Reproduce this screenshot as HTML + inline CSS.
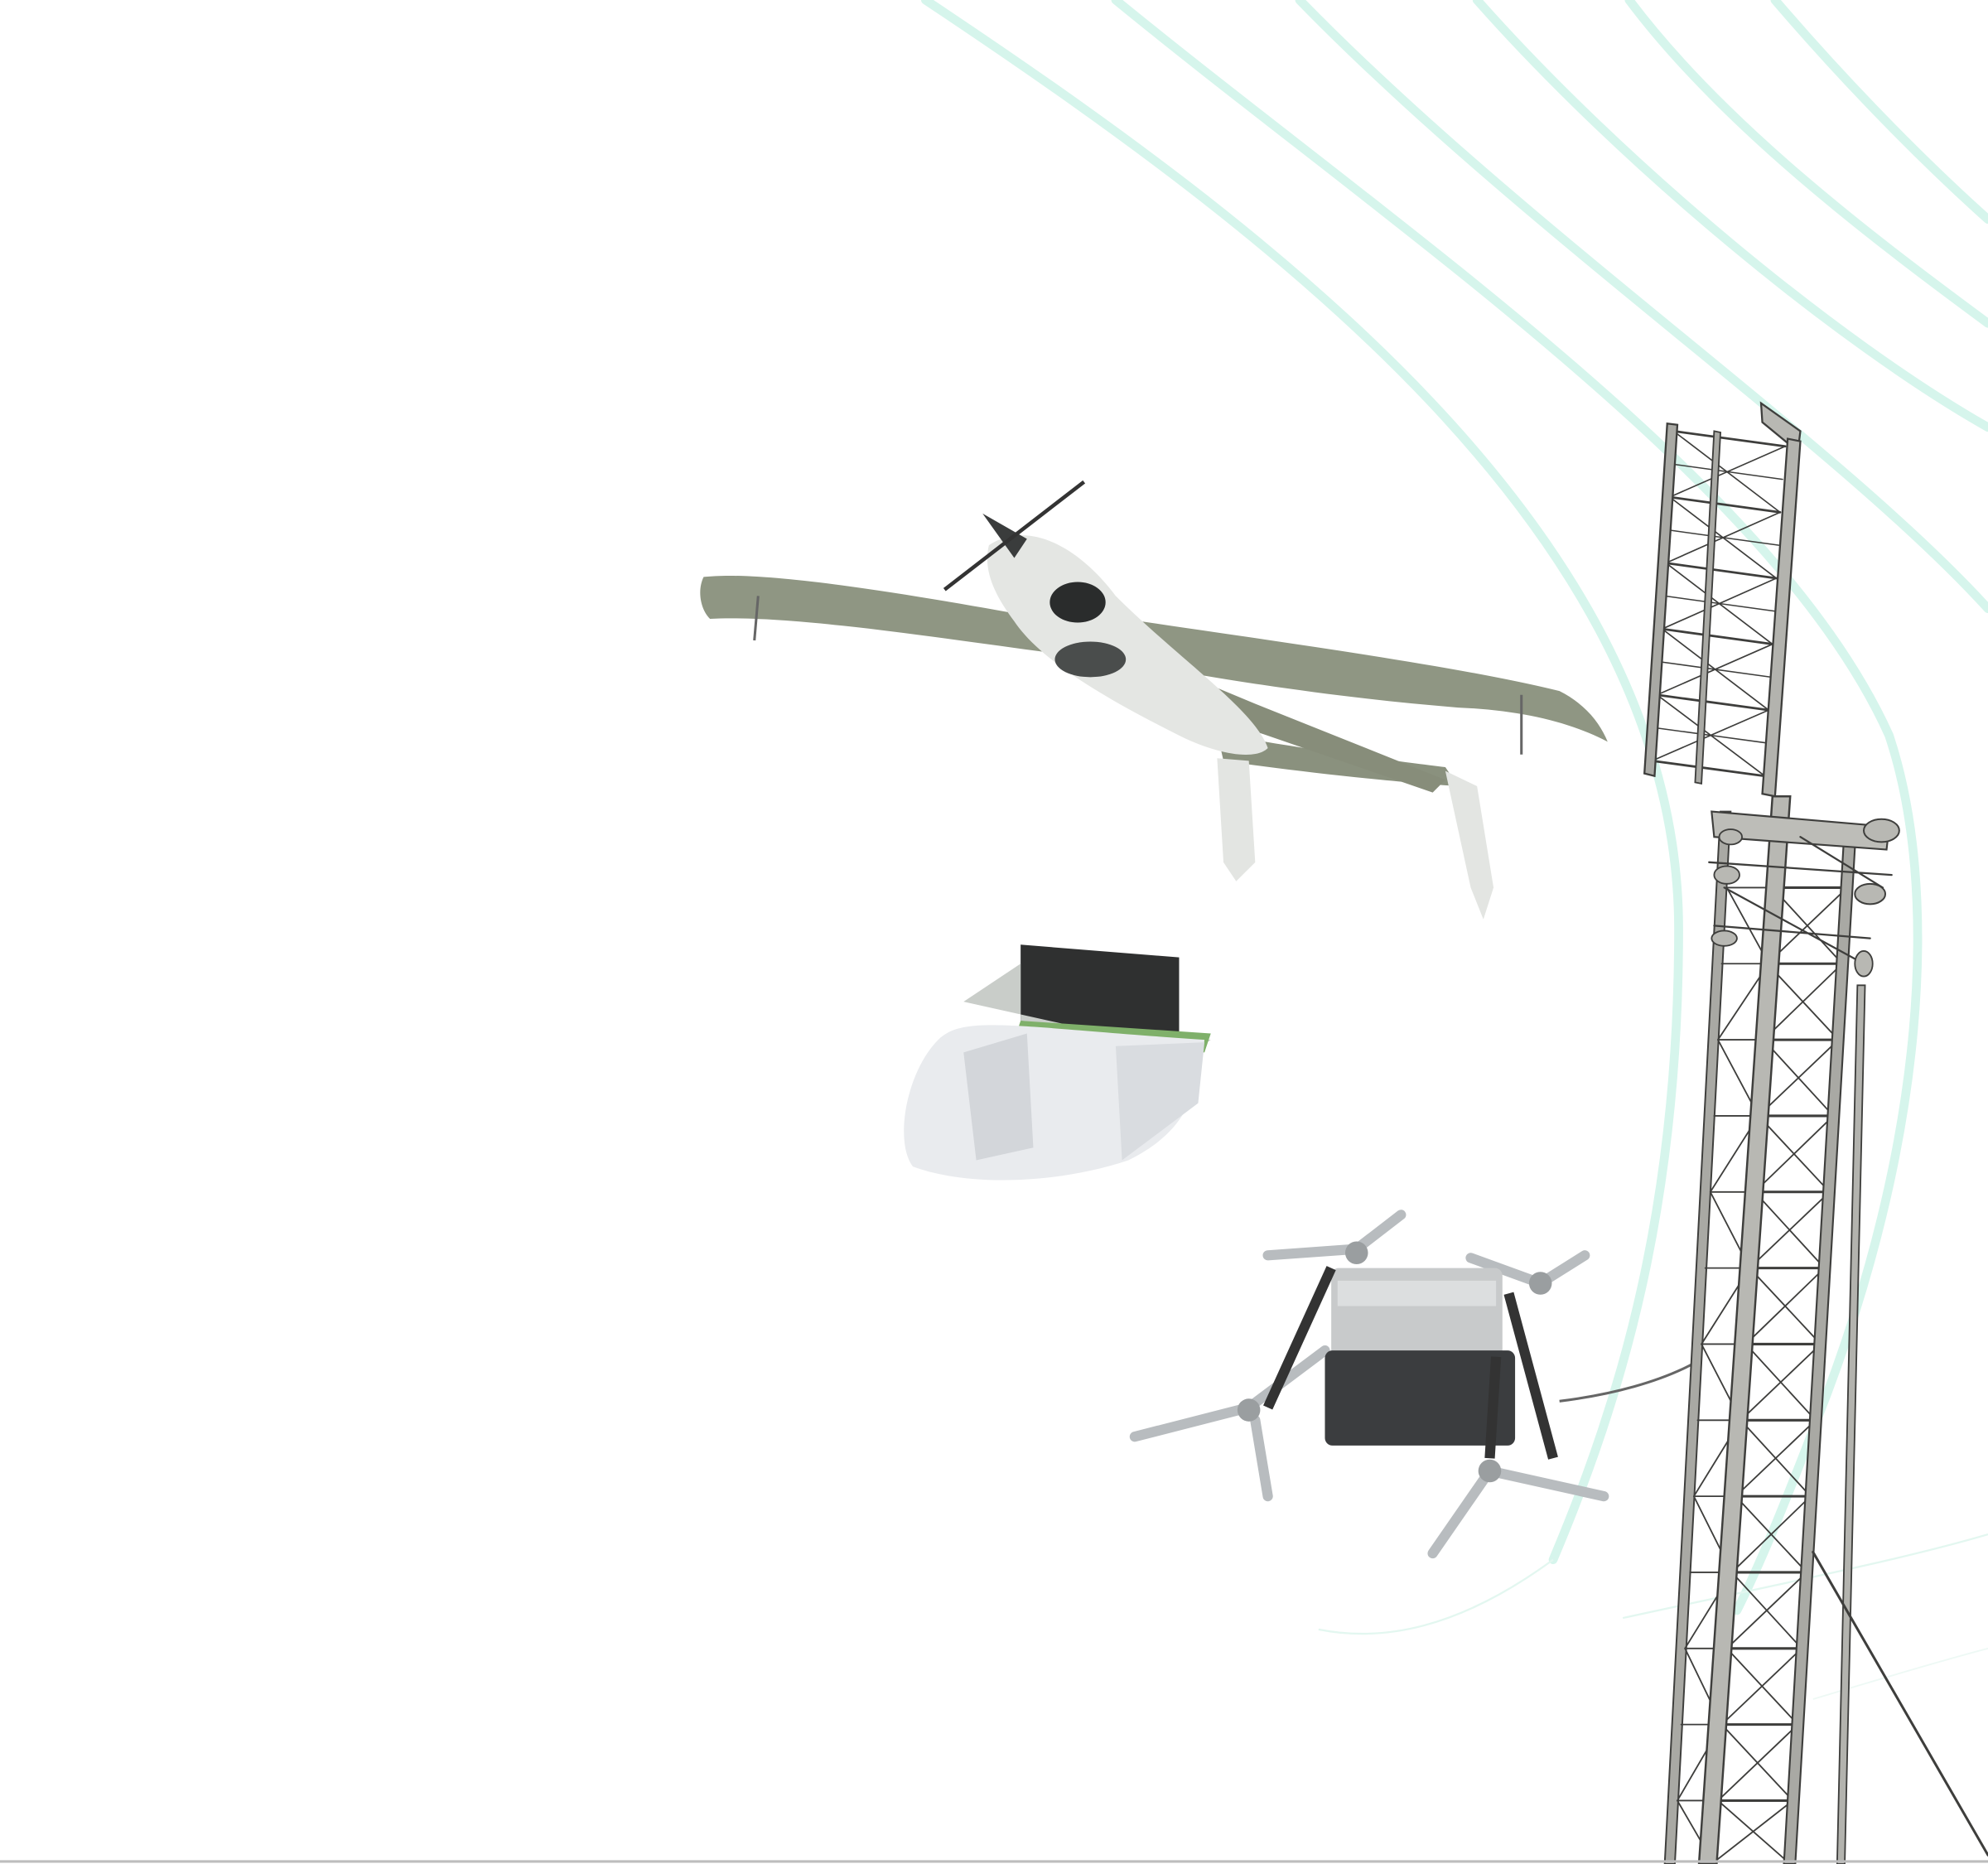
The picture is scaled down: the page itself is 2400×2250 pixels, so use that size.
<!DOCTYPE html>
<html><head><meta charset="utf-8"><style>
html,body{margin:0;padding:0;background:#fff;}
svg{display:block;}
</style></head><body>
<svg width="2400" height="2250" viewBox="0 0 1568 1470" preserveAspectRatio="none" xmlns="http://www.w3.org/2000/svg">
<rect width="1568" height="1470" fill="#fff"/>
<!-- mint curves -->
<g fill="none" stroke="#d6f5ec" stroke-width="7" stroke-linecap="round">
<path d="M730,0 C1000,180 1324,420 1324,733 C1324,950 1280,1100 1225,1230"/>
<path d="M880,0 C1100,180 1400,380 1490,580 C1530,700 1520,900 1433,1120 C1410,1180 1390,1230 1370,1270"/>
<path d="M1025,0 C1200,180 1450,350 1568,480"/>
<path d="M1165,0 C1280,130 1450,270 1568,337"/>
<path d="M1285,0 C1360,100 1480,190 1568,255"/>
<path d="M1400,0 C1460,70 1520,130 1568,173"/>
</g>
<path d="M1225,1230 C1150,1285 1090,1295 1040,1285" fill="none" stroke="#e3f7f0" stroke-width="1.5"/>
<path d="M1280,1276 C1400,1250 1500,1230 1568,1210" fill="none" stroke="#e3f7f0" stroke-width="1.5"/>
<path d="M1430,1340 C1480,1325 1530,1310 1568,1300" fill="none" stroke="#eef9f5" stroke-width="1.2"/>

<!-- plane -->
<g>
<path d="M555,455 C600,450 700,465 835,490 L830,515 C720,500 620,485 560,488 C552,480 550,465 555,455 Z" fill="#8f9683"/>
<path d="M900,490 C1000,505 1150,525 1230,545 C1250,555 1262,570 1268,585 C1240,570 1200,560 1150,558 C1050,550 960,535 905,525 Z" fill="#8f9683"/>
<path d="M960,578 C1020,590 1100,600 1140,605 L1150,620 C1100,617 1020,608 965,600 Z" fill="#8a917e"/>
<path d="M930,530 L990,555 L1140,615 L1130,625 L985,575 Z" fill="#878d7a"/>
<path d="M780,430 C810,410 850,430 880,470 C930,520 990,560 1000,590 C990,600 960,595 930,580 C870,550 820,520 800,490 C785,470 775,450 780,430 Z" fill="#e4e6e3"/>
<ellipse cx="850" cy="475" rx="22" ry="16" fill="#2a2c2c"/>
<ellipse cx="860" cy="520" rx="28" ry="14" fill="#4a4d4c"/>
<path d="M775,405 L810,425 L800,440 Z" fill="#3a3c3c"/>
<line x1="745" y1="465" x2="855" y2="380" stroke="#333" stroke-width="3"/>
<path d="M960,598 L985,600 L990,680 L975,695 L965,680 Z" fill="#e3e5e2"/>
<path d="M1140,608 L1165,620 L1178,700 L1170,725 L1160,700 Z" fill="#e3e5e2"/>
<line x1="598" y1="470" x2="595" y2="505" stroke="#666" stroke-width="2"/>
<line x1="1200" y1="548" x2="1200" y2="595" stroke="#666" stroke-width="2"/>
</g>

<!-- gimbal -->
<g>
<path d="M805,745 L930,755 L930,815 L805,805 Z" fill="#2f3030"/>
<path d="M760,790 L805,760 L805,805 L955,820 L940,830 Z" fill="#c9cdc9"/>
<path d="M805,805 L955,815 L950,830 L800,820 Z" fill="#7fb06a"/>
<path d="M740,820 C760,800 800,810 950,820 C945,870 930,895 890,915 C830,935 760,935 720,920 C705,900 715,845 740,820 Z" fill="#e9ebee"/>
<path d="M760,830 L810,815 L815,905 L770,915 Z" fill="#d3d6da"/>
<path d="M880,825 L950,822 L945,870 L885,915 Z" fill="#d9dce0"/>
</g>

<!-- quadcopter -->
<g>
<g stroke="#b8bcbf" stroke-width="8" stroke-linecap="round">
<line x1="1000" y1="990" x2="1070" y2="985"/>
<line x1="1070" y1="985" x2="1105" y2="958"/>
<line x1="1160" y1="992" x2="1215" y2="1012"/>
<line x1="1215" y1="1012" x2="1250" y2="990"/>
<line x1="895" y1="1133" x2="985" y2="1110"/>
<line x1="985" y1="1110" x2="1045" y2="1065"/>
<line x1="990" y1="1120" x2="1000" y2="1180"/>
<line x1="1130" y1="1225" x2="1175" y2="1160"/>
<line x1="1175" y1="1160" x2="1265" y2="1180"/>
</g>
<rect x="1050" y="1000" width="135" height="70" rx="6" fill="#c8cacb"/>
<rect x="1055" y="1010" width="125" height="20" fill="#dcdedf"/>
<rect x="1045" y="1065" width="150" height="75" rx="6" fill="#3b3d3f"/>
<line x1="1050" y1="1000" x2="1000" y2="1110" stroke="#333" stroke-width="8"/>
<line x1="1190" y1="1020" x2="1225" y2="1150" stroke="#333" stroke-width="8"/>
<line x1="1180" y1="1070" x2="1175" y2="1150" stroke="#333" stroke-width="8"/>
<circle cx="1070" cy="988" r="9" fill="#9a9ea0"/>
<circle cx="1215" cy="1012" r="9" fill="#9a9ea0"/>
<circle cx="985" cy="1112" r="9" fill="#9a9ea0"/>
<circle cx="1175" cy="1160" r="9" fill="#9a9ea0"/>
<path d="M1230,1105 C1270,1100 1310,1090 1340,1073" fill="none" stroke="#666" stroke-width="2"/>
</g>

<!-- tower -->
<g stroke="#3e3e3c" stroke-linecap="round">
<!-- upper mast -->
<path d="M1389,318 L1420,340 L1418,356 L1390,333 Z" fill="#b8b8b3" stroke-width="1.5"/>
<g stroke-width="1.8" fill="none">
<path d="M1320,340 L1408,352 M1317,392 L1404,404 M1314,444 L1401,456 M1311,496 L1398,508 M1307,548 L1395,560 M1303,600 L1392,612"/>
<path d="M1319,366 L1406,378 M1316,418 L1403,430 M1313,470 L1400,482 M1310,522 L1397,534 M1306,574 L1394,586" stroke-width="1"/>
<path d="M1320,340 L1404,404 M1408,352 L1317,392 M1317,392 L1401,456 M1404,404 L1314,444 M1314,444 L1398,508 M1401,456 L1311,496 M1311,496 L1395,560 M1398,508 L1307,548 M1307,548 L1392,612 M1395,560 L1303,600" stroke-width="1.1"/>
</g>
<path d="M1315,334 L1323,335 L1305,612 L1297,610 Z" fill="#a9a9a4" stroke-width="1.5"/>
<path d="M1352,340 L1357,341 L1342,618 L1337,617 Z" fill="#a9a9a4" stroke-width="1.2"/>
<path d="M1410,346 L1420,348 L1400,628 L1390,626 Z" fill="#b3b3ae" stroke-width="1.5"/>
<!-- left secondary lattice -->
<path d="M1357,640 L1365,640 L1321,1470 L1313,1470 Z" fill="#a9a9a4" stroke-width="1.3"/>
<g stroke-width="1.2" fill="none">
<path d="M1362,700 L1398,700 M1358,760 L1395,760 M1355,820 L1391,820 M1352,880 L1387,880 M1349,940 L1384,940 M1345,1000 L1380,1000 M1342,1060 L1377,1060 M1339,1120 L1373,1120 M1336,1180 L1369,1180 M1333,1240 L1366,1240 M1329,1300 L1362,1300 M1326,1360 L1358,1360 M1323,1420 L1355,1420"/>
<path d="M1362,700 L1395,760 L1355,820 L1387,880 L1349,940 L1380,1000 L1342,1060 L1373,1120 L1336,1180 L1366,1240 L1329,1300 L1358,1360 L1323,1420 L1352,1470"/>
</g>
<!-- main ladder -->
<g stroke-width="2" fill="none">
<path d="M1398,700 L1457,700 M1394,760 L1453,760 M1391,820 L1450,820 M1387,880 L1446,880 M1384,940 L1443,940 M1380,1000 L1439,1000 M1377,1060 L1436,1060 M1373,1120 L1432,1120 M1369,1180 L1428,1180 M1366,1240 L1425,1240 M1362,1300 L1421,1300 M1358,1360 L1418,1360 M1355,1420 L1414,1420"/>
<path d="M1398,700 L1453,760 L1391,820 L1446,880 L1384,940 L1439,1000 L1377,1060 L1432,1120 L1369,1180 L1425,1240 L1362,1300 L1418,1360 L1355,1420 L1412,1470" stroke-width="1.2"/>
<path d="M1457,700 L1394,760 L1450,820 L1387,880 L1443,940 L1380,1000 L1436,1060 L1373,1120 L1428,1180 L1366,1240 L1421,1300 L1358,1360 L1414,1420 L1350,1470" stroke-width="1.2"/>
</g>
<path d="M1398,628 L1412,628 L1354,1470 L1340,1470 Z" fill="#b8b8b3" stroke-width="1.6"/>
<path d="M1455,650 L1464,652 L1416,1470 L1407,1470 Z" fill="#a9a9a4" stroke-width="1.4"/>
<!-- top platform -->
<path d="M1350,640 L1490,652 L1488,670 L1352,660 Z" fill="#bdbdb8" stroke-width="1.4"/>
<path d="M1348,680 L1492,690 M1352,730 L1475,740 M1420,660 L1485,700 M1360,700 L1470,760" fill="none" stroke-width="1.5"/>
<ellipse cx="1484" cy="655" rx="14" ry="9" fill="#b8b8b3" stroke-width="1.3"/>
<ellipse cx="1475" cy="705" rx="12" ry="8" fill="#b8b8b3" stroke-width="1.3"/>
<ellipse cx="1362" cy="690" rx="10" ry="7" fill="#b8b8b3" stroke-width="1.2"/>
<ellipse cx="1360" cy="740" rx="10" ry="6" fill="#b8b8b3" stroke-width="1.2"/>
<ellipse cx="1365" cy="660" rx="9" ry="6" fill="#b8b8b3" stroke-width="1.2"/>
<ellipse cx="1470" cy="760" rx="7" ry="10" fill="#b8b8b3" stroke-width="1.2"/>
<!-- pole -->
<path d="M1465,777 L1471,777 L1455,1470 L1449,1470 Z" fill="#b3b3ae" stroke-width="1.2"/>
<!-- guy wire -->
<line x1="1430" y1="1224" x2="1568" y2="1463" stroke-width="2"/>
</g>
<line x1="0" y1="1468" x2="1568" y2="1468" stroke="#bdbdbd" stroke-width="2"/>
</svg>
</body></html>
